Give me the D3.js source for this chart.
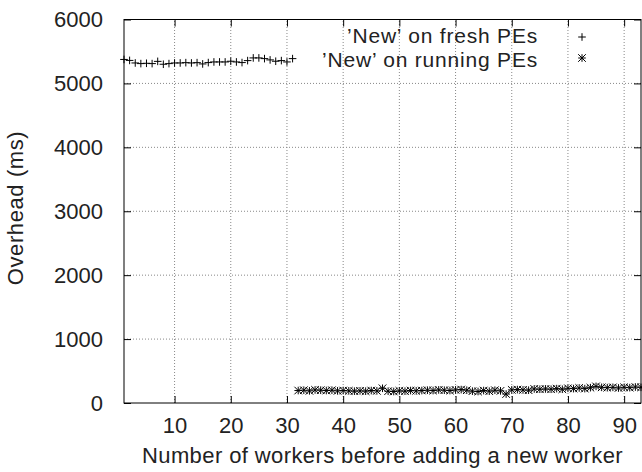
<!DOCTYPE html>
<html><head><meta charset="utf-8">
<script src="https://cdn.jsdelivr.net/npm/d3@7"></script>
<style>body{margin:0;background:#fff}svg text{font-family:"Liberation Sans",Arial,Helvetica,sans-serif}</style>
</head><body><svg id="c" width="642" height="472"></svg>
<script>
const freshX = d3.range(1, 32);
const freshY = [5375,5360,5320,5310,5315,5310,5345,5300,5310,5320,5320,5325,5320,5325,5305,5326,5336,5336,5336,5347,5336,5326,5357,5399,5399,5388,5368,5347,5357,5336,5388];
const runX = d3.range(32, 94);
const runY = [195,200,190,205,200,195,200,190,195,190,185,190,185,195,190,230,185,180,190,185,195,190,195,200,195,205,200,195,205,210,200,185,180,195,185,200,190,140,205,210,205,200,220,215,220,215,225,215,230,225,235,225,240,260,245,240,245,235,245,240,250,245];
const xTicks = [10,20,30,40,50,60,70,80,90];
const yTicks = [0,1000,2000,3000,4000,5000,6000];
const seriesNames = ["\u2019New\u2019 on fresh PEs", "\u2019New\u2019 on running PEs"];
const xLabel = "Number of workers before adding a new worker";
const yLabel = "Overhead (ms)";

const L=124, R=641, T=19.5, B=403;
const x = d3.scaleLinear().domain([1,93]).range([L,R]);
const y = d3.scaleLinear().domain([0,6000]).range([B,T]);
const svg = d3.select("#c");
const FS = 22;

// grid
const g = svg.append("g");
g.selectAll(".gx").data(xTicks).join("line").attr("x1",d=>x(d)).attr("x2",d=>x(d)).attr("y1",B).attr("y2",T)
 .attr("stroke","#888").attr("stroke-width",1).attr("stroke-dasharray","1,2");
g.selectAll(".gy").data(yTicks.filter(d=>d>0&&d<6000)).join("line").attr("y1",d=>y(d)).attr("y2",d=>y(d)).attr("x1",L).attr("x2",R)
 .attr("stroke","#888").attr("stroke-width",1).attr("stroke-dasharray","1,2");

// axes with inward ticks (mirrored)
const TL = 7;
const ax = svg.append("g");
ax.append("g").attr("transform",`translate(0,${B})`).call(d3.axisBottom(x).tickValues(xTicks).tickSize(-TL).tickPadding(TL+7).tickFormat(d3.format("d")));
ax.append("g").attr("transform",`translate(0,${T})`).call(d3.axisTop(x).tickValues(xTicks).tickSize(-TL).tickFormat(""));
ax.append("g").attr("transform",`translate(${L},0)`).call(d3.axisLeft(y).tickValues(yTicks).tickSize(-TL).tickPadding(TL+14).tickFormat(d3.format("d")));
ax.append("g").attr("transform",`translate(${R},0)`).call(d3.axisRight(y).tickValues(yTicks).tickSize(-TL).tickFormat(""));
ax.selectAll(".domain").remove();
ax.selectAll(".tick line").attr("stroke","#000");
ax.selectAll(".tick text").attr("font-size",FS).attr("fill","#222").attr("font-family","Liberation Sans, Arial, sans-serif");
svg.append("rect").attr("x",L).attr("y",T).attr("width",R-L).attr("height",B-T).attr("fill","none").attr("stroke","#000").attr("stroke-width",1);

// markers
const S = 3.8;
const plusPath = `M${-S},0H${S}M0,${-S}V${S}`;
const starPath = `M${-S},0H${S}M0,${-S}V${S}M${-S},${-S}L${S},${S}M${-S},${S}L${S},${-S}`;
svg.append("g").selectAll("path").data(freshX.map((d,i)=>[d,freshY[i]])).join("path")
 .attr("transform",d=>`translate(${x(d[0])},${y(d[1])})`).attr("d",plusPath).attr("stroke","#000").attr("stroke-width",1).attr("fill","none");
svg.append("g").selectAll("path").data(runX.map((d,i)=>[d,runY[i]])).join("path")
 .attr("transform",d=>`translate(${x(d[0])},${y(d[1])})`).attr("d",starPath).attr("stroke","#000").attr("stroke-width",1).attr("fill","none");

// legend
const lg = svg.append("g");
[[plusPath,36],[starPath,60]].forEach((p,i)=>{
  lg.append("text").attr("x",538).attr("y",p[1]).attr("dy","0.35em").attr("text-anchor","end").attr("font-size",21).attr("letter-spacing","0.8").attr("fill","#222").text(seriesNames[i]);
  lg.append("path").attr("transform",`translate(582,${p[1]+(i?-2:1)})`).attr("d",p[0]).attr("stroke","#000").attr("fill","none");
});

// labels
svg.append("text").attr("x",(L+R)/2).attr("y",463).attr("text-anchor","middle").attr("font-size",FS).attr("letter-spacing","0.4").attr("fill","#222").text(xLabel);
svg.append("text").attr("transform",`translate(23,208) rotate(-90)`).attr("text-anchor","middle").attr("font-size",FS).attr("letter-spacing","0.6").attr("fill","#222").text(yLabel);
</script></body></html>
